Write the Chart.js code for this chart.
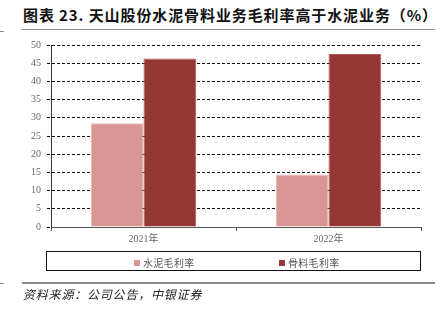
<!DOCTYPE html>
<html>
<head>
<meta charset="utf-8">
<script src="https://cdn.jsdelivr.net/npm/chart.js@4/dist/chart.umd.min.js"></script>
<style>
	html, body { margin: 0; padding: 0; background: #fff; }
	#wrap { position: relative; width: 442px; height: 310px; overflow: hidden; }
	#chart { position: absolute; left: 0; top: 0; }
	.title {
		position: absolute; left: 23px; top: 4px; white-space: nowrap;
		font-family: "Noto Sans CJK SC", sans-serif; font-weight: bold;
		font-size: 15px; color: #111; letter-spacing: 0.9px;
	}
	.rule { position: absolute; height: 1px; background: #8c8c8c; }
	.source {
		position: absolute; left: 23px; top: 285px; white-space: nowrap;
		font-family: "Noto Sans CJK SC", sans-serif; font-style: italic;
		font-size: 12px; color: #222; letter-spacing: 0.8px;
	}
	#legend {
		position: absolute; left: 46px; top: 251px; width: 375px; height: 20px;
		border: 1px solid #111; box-sizing: border-box;
	}
	#legend span.item {
		position: absolute; top: 3px; white-space: nowrap;
		font-family: "Noto Sans CJK SC", sans-serif; font-size: 10px; color: #555;
		letter-spacing: 0.3px;
	}
	#legend span.box {
		display: inline-block; width: 6px; height: 6px; margin-right: 3px; vertical-align: 1px;
	}
</style>
</head>
<body>
<div id="wrap">
	<div class="title">图表 23. 天山股份水泥骨料业务毛利率高于水泥业务（%）</div>
	<div class="rule" style="left:22px; top:29px; width:413px;"></div>
	<div class="rule" style="left:0; top:31px; width:4px;"></div>
	<canvas id="chart" width="442" height="310"></canvas>
	<div id="legend"></div>
	<div class="rule" style="left:22px; top:282px; width:413px; height:2px;"></div>
	<div class="rule" style="left:0; top:283px; width:4px;"></div>
	<div class="source">资料来源：公司公告，中银证券</div>
</div>
<script>
	// Chart data.
	const years = ['2021年', '2022年'];
	const cementMargin = [28.5, 14.4];
	const aggregateMargin = [46.3, 47.5];
	const seriesNames = ['水泥毛利率', '骨料毛利率'];
	const yTicks = [0, 5, 10, 15, 20, 25, 30, 35, 40, 45, 50];

	const colors = {
		cement: { fill: '#d99694', edge: '#e8b9b7' },
		aggregate: { fill: '#953735', edge: '#b65654' }
	};

	const tickFont = { family: '"Liberation Serif", "Noto Sans CJK SC", serif', size: 10 };

	// Build an HTML legend (boxed, as in the reference) from the chart's datasets.
	const htmlLegend = {
		id: 'htmlLegend',
		afterUpdate: function(chart) {
			const el = document.getElementById('legend');
			el.innerHTML = '';
			const lefts = [87, 232];
			chart.data.datasets.forEach(function(ds, i) {
				const item = document.createElement('span');
				item.className = 'item';
				item.style.left = lefts[i] + 'px';
				const box = document.createElement('span');
				box.className = 'box';
				box.style.background = ds.backgroundColor;
				item.appendChild(box);
				item.appendChild(document.createTextNode(ds.label));
				el.appendChild(item);
			});
		}
	};

	new Chart(document.getElementById('chart'), {
		type: 'bar',
		data: {
			labels: years,
			datasets: [
				{
					label: seriesNames[0],
					data: cementMargin,
					backgroundColor: colors.cement.fill,
					borderColor: colors.cement.edge,
					borderWidth: 1,
					categoryPercentage: 0.57,
					barPercentage: 1
				},
				{
					label: seriesNames[1],
					data: aggregateMargin,
					backgroundColor: colors.aggregate.fill,
					borderColor: colors.aggregate.edge,
					borderWidth: 1,
					categoryPercentage: 0.57,
					barPercentage: 1
				}
			]
		},
		options: {
			responsive: false,
			animation: false,
			layout: {
				padding: { left: 0, top: 45, right: 21, bottom: 63 }
			},
			plugins: {
				legend: { display: false },
				tooltip: { enabled: false }
			},
			scales: {
				x: {
					afterFit: function(scale) { scale.height = 20; },
					grid: {
						offset: true,
						drawOnChartArea: false,
						tickLength: 4,
						tickColor: '#555'
					},
					border: { color: '#555', width: 1 },
					ticks: { color: '#666', font: tickFont, padding: 2 }
				},
				y: {
					min: 0,
					max: 50,
					afterFit: function(scale) { scale.width = 51; },
					afterBuildTicks: function(scale) {
						scale.ticks = yTicks.map(function(v) { return { value: v }; });
					},
					grid: {
						color: function(ctx) { return ctx.tick.value === 0 ? 'rgba(0,0,0,0)' : '#111'; },
						lineWidth: 1,
						tickLength: 4,
						tickColor: '#111',
						tickBorderDash: [3, 2]
					},
					border: { color: '#333', width: 1, dash: [3, 2] },
					ticks: { color: '#666', font: tickFont, padding: 6 }
				}
			}
		},
		plugins: [htmlLegend]
	});
</script>
</body>
</html>
